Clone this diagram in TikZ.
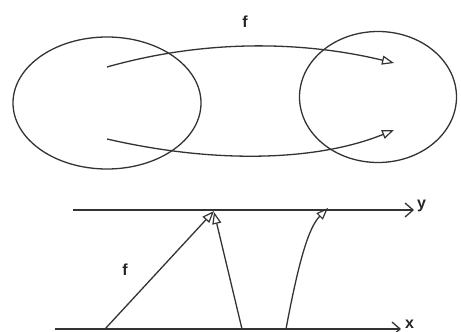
\documentclass[tikz,border=0pt]{standalone}
\usepackage{fontspec}
\setmainfont{Liberation Sans}
\usetikzlibrary{arrows.meta,shapes.geometric}
\begin{document}
\begin{tikzpicture}[x=1pt,y=-1pt,
  ink/.style={draw=black!80,line width=1.3pt},
  mapar/.style={ink,-{Triangle[open,length=12pt,width=9pt,line width=1.2pt]}},
  axis/.style={ink,-{Straight Barb[length=8pt,width=14pt]}},
  lbl/.style={font=\bfseries\fontsize{16}{16}\selectfont,text=black!85,inner sep=0pt}]
\useasboundingbox (0,0) rectangle (461,332);
\fill[white] (0,0) rectangle (461,332);
% top: sets
\node[ink,ellipse,minimum width=188pt,minimum height=132pt,inner sep=0pt] (A) at (107,103) {};
\node[ink,ellipse,minimum width=157pt,minimum height=131pt,inner sep=0pt] (B) at (378,97) {};
\coordinate (a1) at (107,67);
\coordinate (b1) at (394,63);
\coordinate (a2) at (107,139);
\coordinate (b2) at (394,130);
\draw[mapar] (a1) .. controls (220,35) and (320,45) .. (b1);
\draw[mapar] (a2) .. controls (220,165) and (320,160) .. (b2);
\node[lbl] (f1) at (245,22) {f};
% bottom: axes
\coordinate (y0) at (73,210);
\coordinate (y1) at (414,210);
\coordinate (x0) at (55,329);
\coordinate (x1) at (401,329);
\draw[axis] (y0) -- (y1);
\draw[axis] (x0) -- (x1);
\node[lbl,anchor=west] (ylab) at (417,206) {y};
\node[lbl,anchor=west] (xlab) at (405,324) {x};
\coordinate (p1) at (105,329);
\coordinate (p2) at (242,329);
\coordinate (p3) at (286,329);
\coordinate (q1) at (214,211);
\coordinate (q2) at (214,212);
\coordinate (q3) at (328,208);
\draw[mapar] (p1) -- (q1);
\draw[mapar] (p2) -- (q2);
\draw[mapar] (p3) .. controls (298,265) and (308,228) .. (q3);
\node[lbl] (f2) at (125,270) {f};
\end{tikzpicture}
\end{document}
